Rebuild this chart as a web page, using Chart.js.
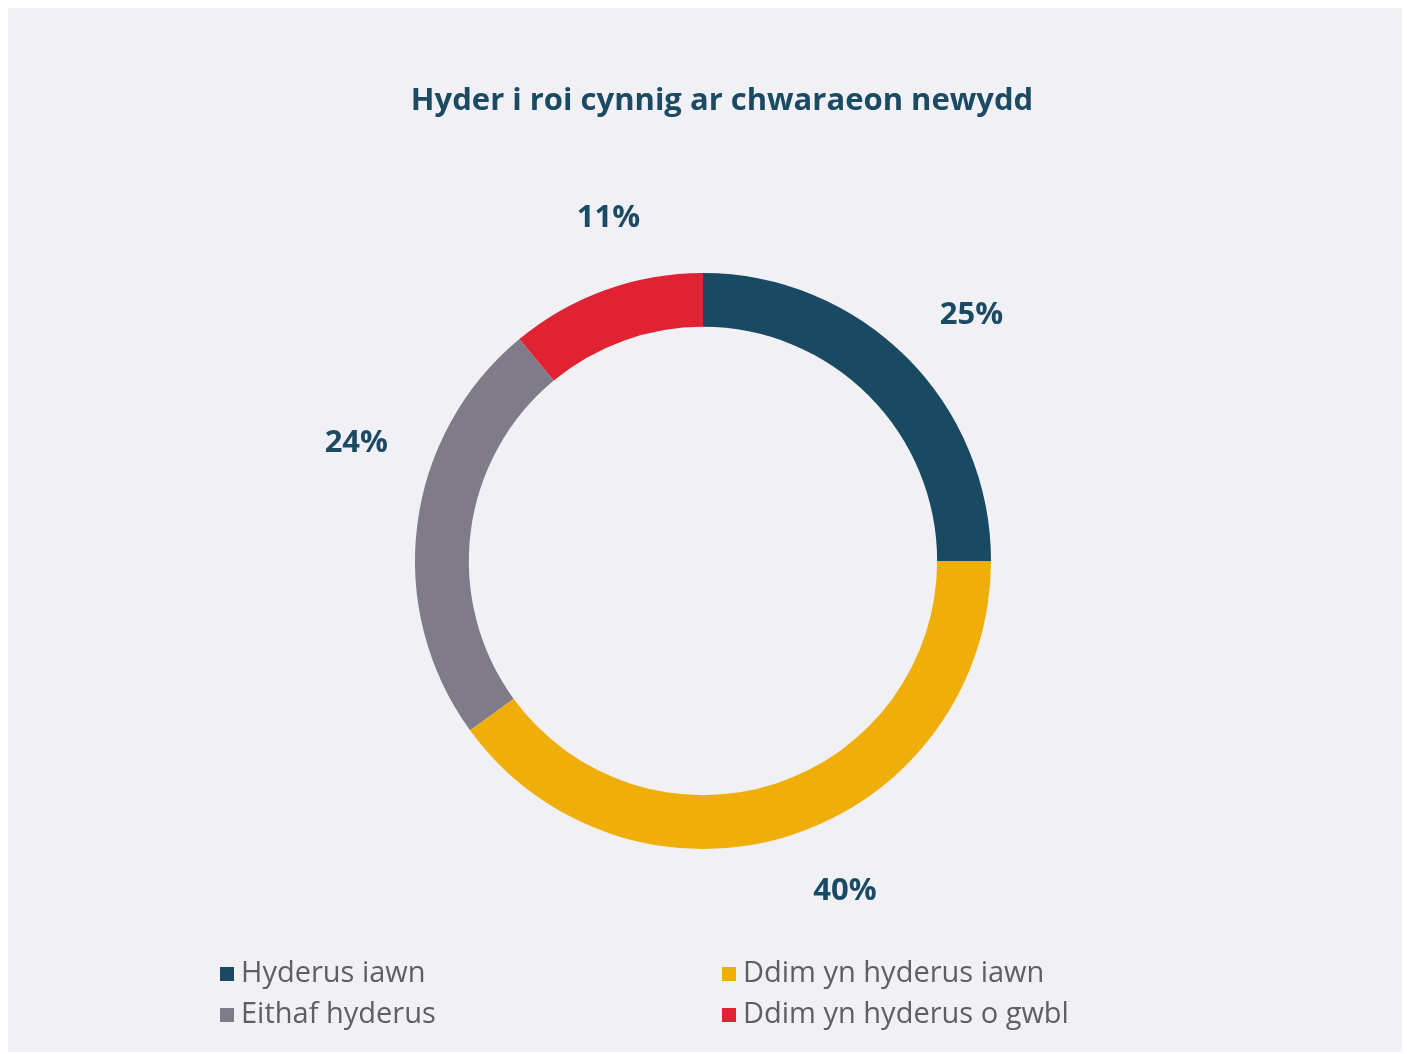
<!DOCTYPE html>
<html>
<head>
<meta charset="utf-8">
<title>Hyder i roi cynnig ar chwaraeon newydd</title>
<script src="https://cdn.jsdelivr.net/npm/chart.js@4.4.1/dist/chart.umd.min.js"></script>
<style>
  html, body { margin: 0; padding: 0; background: #ffffff; }
  #panel {
    position: absolute; left: 8px; top: 8px;
    width: 1394px; height: 1044px;
    background: #f0f0f5;
  }
</style>
</head>
<body>
<div id="panel"><canvas id="donut"></canvas></div>
<script>
// data
const chartTitle = 'Hyder i roi cynnig ar chwaraeon newydd';
const categories = ['Hyderus iawn', 'Ddim yn hyderus iawn', 'Eithaf hyderus', 'Ddim yn hyderus o gwbl'];
const shares     = [25, 40, 24, 11];
const colours    = ['#1a4a62', '#f0ae0a', '#7f7b88', '#e02233'];

const FONT = "'Open Sans', 'Noto Sans', sans-serif";

// title drawn by hand so it isn't squeezed into the padded layout box
const topTitle = {
  id: 'topTitle',
  afterDraw(chart, args, opts) {
    const ctx = chart.ctx;
    ctx.save();
    ctx.font = 'bold 31px ' + FONT;
    ctx.fillStyle = '#1b4a63';
    ctx.textAlign = 'center';
    ctx.textBaseline = 'middle';
    ctx.fillText(chartTitle, opts.x, opts.y);
    ctx.restore();
  }
};

// percentage labels round the ring
const ringLabels = {
  id: 'ringLabels',
  afterDatasetsDraw(chart, args, opts) {
    const ctx = chart.ctx;
    const meta = chart.getDatasetMeta(0);
    ctx.save();
    ctx.font = 'bold 31px ' + FONT;
    ctx.fillStyle = '#1b4a63';
    ctx.textAlign = 'center';
    ctx.textBaseline = 'middle';
    meta.data.forEach((arc, i) => {
      const p = arc.getProps(['x', 'y', 'startAngle', 'endAngle', 'outerRadius'], true);
      const mid = (p.startAngle + p.endAngle) / 2 + (opts.nudge[i] || 0) * Math.PI / 180;
      const r = p.outerRadius + opts.offset[i];
      ctx.fillText(shares[i] + '%', p.x + Math.cos(mid) * r, p.y + Math.sin(mid) * r);
    });
    ctx.restore();
  }
};

// two-column legend at the bottom
const gridLegend = {
  id: 'gridLegend',
  afterDraw(chart, args, opts) {
    const ctx = chart.ctx;
    ctx.save();
    ctx.font = '29px ' + FONT;
    ctx.textBaseline = 'middle';
    ctx.textAlign = 'left';
    categories.forEach((name, i) => {
      const x = opts.cols[i % 2];
      const y = opts.rows[Math.floor(i / 2)];
      ctx.fillStyle = colours[i];
      ctx.fillRect(x, y - 7, 14, 14);
      ctx.fillStyle = '#5e5e64';
      ctx.fillText(name, x + 21, y);
    });
    ctx.restore();
  }
};

const chart = new Chart(document.getElementById('donut'), {
  type: 'doughnut',
  data: {
    labels: categories,
    datasets: [{
      data: shares,
      backgroundColor: colours,
      borderWidth: 0
    }]
  },
  options: {
    responsive: true,
    maintainAspectRatio: false,
    animation: false,
    cutout: '81.3%',
    layout: { padding: { top: 265, bottom: 203, left: 407, right: 411 } },
    plugins: {
      legend: { display: false },
      tooltip: { enabled: false },
      title: { display: false },
      topTitle: { x: 714, y: 93 },
      ringLabels: { offset: [76, 71, 78, 68], nudge: [2.5, -5.3, 11.5, 4.4] },
      gridLegend: { cols: [212, 714], rows: [966, 1007] }
    }
  },
  plugins: [topTitle, ringLabels, gridLegend]
});
</script>
</body>
</html>
